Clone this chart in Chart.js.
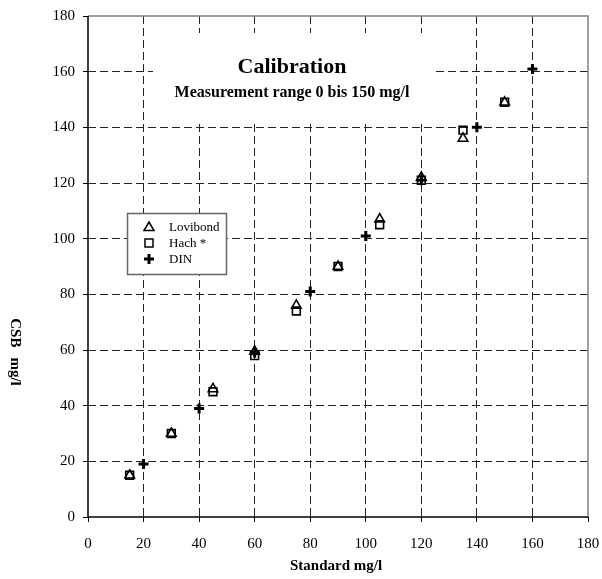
<!DOCTYPE html>
<html>
<head>
<meta charset="utf-8">
<script src="https://cdn.jsdelivr.net/npm/chart.js@4/dist/chart.umd.min.js"></script>
<style>
html,body{margin:0;padding:0;background:#fff;}
#wrap{width:602px;height:579px;position:relative;}
</style>
</head>
<body>
<div id="wrap"><canvas id="c" width="602" height="579"></canvas></div>
<script>
// ---- data ----
const standardLH = [15, 30, 45, 60, 75, 90, 105, 120, 135, 150];
const lovibond   = [15, 30, 46, 59.5, 76, 90, 107, 122, 136, 149];
const hach       = [15, 30, 45, 58, 74, 90, 105, 121, 139, 149];
const standardDIN = [20, 40, 60, 80, 100, 120, 140, 160];
const din         = [19, 39, 59, 81, 101, 121, 140, 161];
const tickValues  = [0, 20, 40, 60, 80, 100, 120, 140, 160, 180];
const seriesNames = ['Lovibond', 'Hach *', 'DIN'];
const chartTitle = 'Calibration';
const chartSubtitle = 'Measurement range 0 bis 150 mg/l';
const xTitle = 'Standard mg/l';
const yTitle = 'CSB mg/l';

const FONT = '"Liberation Serif", "Times New Roman", serif';
const toPts = (xs, ys) => xs.map((x, i) => ({x: x, y: ys[i]}));

const overlay = {
  id: 'overlay',
  beforeDatasetsDraw(chart) {
    const ctx = chart.ctx;
    const a = chart.chartArea;
    ctx.save();
    ctx.setLineDash([]);
    // frame: top & right grey, left & bottom black
    ctx.lineWidth = 1.5;
    ctx.strokeStyle = '#808080';
    ctx.beginPath();
    ctx.moveTo(a.left, a.top); ctx.lineTo(a.right, a.top); ctx.lineTo(a.right, a.bottom);
    ctx.stroke();
    ctx.strokeStyle = '#000';
    ctx.beginPath();
    ctx.moveTo(a.left, a.top); ctx.lineTo(a.left, a.bottom); ctx.lineTo(a.right, a.bottom);
    ctx.stroke();

    // title box (white, hides grid)
    ctx.fillStyle = '#fff';
    ctx.fillRect(153, 33, 279, 89);
    ctx.fillStyle = '#000';
    ctx.textAlign = 'center';
    ctx.textBaseline = 'middle';
    ctx.font = 'bold 22px ' + FONT;
    ctx.fillText(chartTitle, 292, 67);
    ctx.font = 'bold 16px ' + FONT;
    ctx.fillText(chartSubtitle, 292, 93);

    // legend box
    ctx.fillStyle = '#fff';
    ctx.fillRect(127.5, 213.5, 99, 61);
    ctx.strokeStyle = '#666';
    ctx.lineWidth = 1.5;
    ctx.strokeRect(127.5, 213.5, 99, 61);
    const rows = [227, 243, 259];
    const sx = 149;
    ctx.strokeStyle = '#000';
    ctx.lineWidth = 1.5;
    // triangle
    ctx.beginPath();
    ctx.moveTo(sx, rows[0] - 5); ctx.lineTo(sx + 5, rows[0] + 3.5); ctx.lineTo(sx - 5, rows[0] + 3.5); ctx.closePath();
    ctx.stroke();
    // square
    ctx.strokeRect(sx - 4, rows[1] - 4, 8, 8);
    // cross
    ctx.lineWidth = 3;
    ctx.beginPath();
    ctx.moveTo(sx - 5, rows[2]); ctx.lineTo(sx + 5, rows[2]);
    ctx.moveTo(sx, rows[2] - 5); ctx.lineTo(sx, rows[2] + 5);
    ctx.stroke();
    ctx.fillStyle = '#000';
    ctx.font = '13px ' + FONT;
    ctx.textAlign = 'left';
    seriesNames.forEach((n, i) => ctx.fillText(n, 169, rows[i] + 1));

    // axis titles
    ctx.font = 'bold 15px ' + FONT;
    ctx.textAlign = 'center';
    ctx.fillText(xTitle, 336, 566);
    ctx.translate(15, 352);
    ctx.rotate(Math.PI / 2);
    const parts = yTitle.split(' ');
    const gap = 10;
    const w0 = ctx.measureText(parts[0]).width, w1 = ctx.measureText(parts[1]).width;
    const start = -(w0 + gap + w1) / 2;
    ctx.textAlign = 'left';
    ctx.fillText(parts[0], start, 0);
    ctx.fillText(parts[1], start + w0 + gap, 0);
    ctx.restore();
  }
};

const gridCol = (c) => (c.tick && (c.tick.value === 0 || c.tick.value === 180)) ? 'rgba(0,0,0,0)' : '#222';

new Chart(document.getElementById('c'), {
  type: 'scatter',
  data: {
    datasets: [
      { label: seriesNames[0], data: toPts(standardLH, lovibond), pointStyle: 'triangle',
        pointRadius: 5.5, borderColor: '#000', backgroundColor: 'rgba(0,0,0,0)', borderWidth: 1.6 },
      { label: seriesNames[1], data: toPts(standardLH, hach), pointStyle: 'rect',
        pointRadius: 5.5, borderColor: '#000', backgroundColor: 'rgba(0,0,0,0)', borderWidth: 1.6 },
      { label: seriesNames[2], data: toPts(standardDIN, din), pointStyle: 'cross',
        pointRadius: 5, borderColor: '#000', backgroundColor: '#000', borderWidth: 3 }
    ]
  },
  options: {
    responsive: false,
    animation: false,
    layout: { padding: { top: 16, right: 14, left: 0, bottom: 0 } },
    plugins: { legend: { display: false }, tooltip: { enabled: false }, title: { display: false } },
    scales: {
      x: {
        type: 'linear', min: 0, max: 180,
        afterBuildTicks: (s) => { s.ticks = tickValues.map(v => ({value: v})); },
        afterFit: (s) => { s.height = 62; s.paddingLeft = 0; s.paddingRight = 0; },
        grid: { color: gridCol, lineWidth: 1, drawTicks: true, tickLength: 5,
                tickColor: '#000', tickBorderDash: [] },
        border: { display: false, dash: [8, 4] },
        ticks: { color: '#000', font: { family: FONT, size: 15 }, padding: 13, maxRotation: 0 }
      },
      y: {
        type: 'linear', min: 0, max: 180,
        afterBuildTicks: (s) => { s.ticks = tickValues.map(v => ({value: v})); },
        afterFit: (s) => { s.width = 88; s.paddingTop = 0; s.paddingBottom = 0; },
        grid: { color: gridCol, lineWidth: 1, drawTicks: true, tickLength: 5,
                tickColor: '#000', tickBorderDash: [] },
        border: { display: false, dash: [8, 4] },
        ticks: { color: '#000', font: { family: FONT, size: 15 }, padding: 8 }
      }
    }
  },
  plugins: [overlay]
});
</script>
</body>
</html>
